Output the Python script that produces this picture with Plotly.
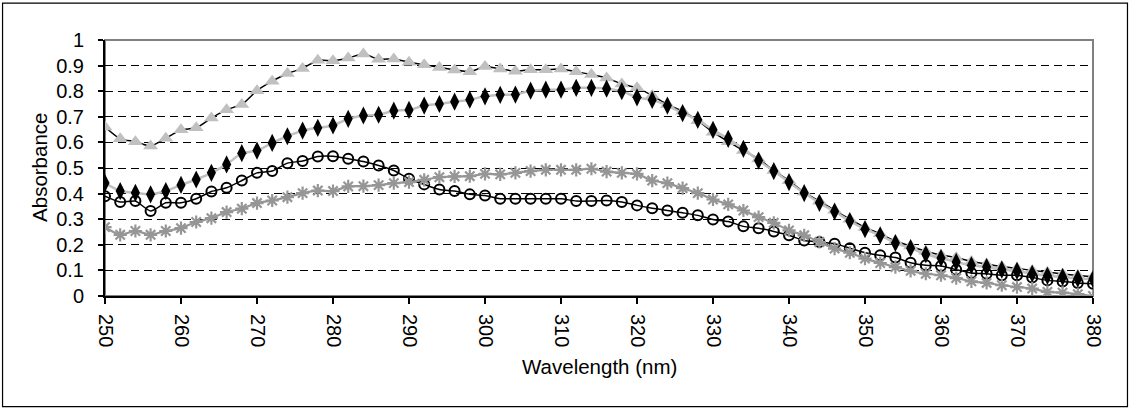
import plotly.graph_objects as go

# Wavelength grid (nm), sampled every 2 nm
wavelength = list(range(250, 382, 2))

# Absorbance spectra of the four samples
abs_triangle = [
    0.660, 0.614, 0.603, 0.586, 0.616, 0.649, 0.657, 0.695, 0.728, 0.748,
    0.802, 0.839, 0.869, 0.889, 0.921, 0.919, 0.930, 0.945, 0.925, 0.926,
    0.913, 0.903, 0.893, 0.883, 0.876, 0.896, 0.887, 0.878, 0.884, 0.884,
    0.887, 0.876, 0.865, 0.852, 0.828, 0.813, 0.783, 0.748, 0.722, 0.685,
    0.640, 0.603, 0.568, 0.535, 0.490, 0.450, 0.405, 0.370, 0.335, 0.300,
    0.268, 0.243, 0.215, 0.195, 0.175, 0.160, 0.150, 0.135, 0.125, 0.115,
    0.108, 0.100, 0.093, 0.086, 0.080, 0.075,
]
abs_diamond = [
    0.441, 0.410, 0.403, 0.397, 0.410, 0.434, 0.455, 0.481, 0.514, 0.558,
    0.568, 0.598, 0.624, 0.646, 0.657, 0.666, 0.692, 0.705, 0.708, 0.724,
    0.727, 0.744, 0.750, 0.759, 0.767, 0.780, 0.786, 0.787, 0.802, 0.806,
    0.806, 0.813, 0.813, 0.810, 0.800, 0.776, 0.766, 0.744, 0.714, 0.688,
    0.649, 0.614, 0.575, 0.529, 0.488, 0.445, 0.402, 0.364, 0.330, 0.293,
    0.261, 0.237, 0.207, 0.187, 0.163, 0.148, 0.133, 0.120, 0.113, 0.103,
    0.098, 0.087, 0.079, 0.074, 0.068, 0.066,
]
abs_circle = [
    0.390, 0.367, 0.371, 0.332, 0.364, 0.364, 0.380, 0.408, 0.423, 0.451,
    0.481, 0.488, 0.519, 0.527, 0.545, 0.546, 0.536, 0.525, 0.510, 0.490,
    0.458, 0.436, 0.416, 0.410, 0.397, 0.393, 0.380, 0.380, 0.380, 0.380,
    0.380, 0.371, 0.371, 0.373, 0.367, 0.354, 0.343, 0.334, 0.325, 0.315,
    0.299, 0.291, 0.272, 0.265, 0.252, 0.237, 0.217, 0.211, 0.204, 0.187,
    0.169, 0.159, 0.150, 0.130, 0.120, 0.117, 0.103, 0.090, 0.087, 0.081,
    0.081, 0.072, 0.061, 0.057, 0.051, 0.048,
]
abs_star = [
    0.269, 0.239, 0.254, 0.239, 0.254, 0.265, 0.289, 0.304, 0.328, 0.341,
    0.363, 0.373, 0.386, 0.402, 0.412, 0.410, 0.428, 0.429, 0.433, 0.441,
    0.445, 0.454, 0.464, 0.467, 0.468, 0.477, 0.475, 0.481, 0.488, 0.493,
    0.493, 0.493, 0.497, 0.486, 0.481, 0.477, 0.451, 0.441, 0.421, 0.402,
    0.377, 0.358, 0.334, 0.308, 0.286, 0.256, 0.237, 0.211, 0.185, 0.169,
    0.146, 0.129, 0.113, 0.098, 0.087, 0.081, 0.070, 0.057, 0.051, 0.042,
    0.035, 0.029, 0.016, 0.013, 0.007, 0.000,
]

y_ticks = [0, 0.1, 0.2, 0.3, 0.4, 0.5, 0.6, 0.7, 0.8, 0.9, 1]
x_ticks = list(range(250, 390, 10))

FONT = "Liberation Sans, Arial, sans-serif"
LIGHT = "#c0c0c0"
MID = "#969696"

fig = go.Figure()

fig.add_trace(go.Scatter(
    x=wavelength, y=abs_triangle, mode="lines+markers",
    line=dict(color="black", width=1.5, shape="spline", smoothing=0.6),
    marker=dict(symbol="triangle-up", size=13, color=LIGHT, line=dict(width=0)),
))
fig.add_trace(go.Scatter(
    x=wavelength, y=abs_diamond, mode="lines+markers",
    line=dict(color=LIGHT, width=2.5, shape="spline", smoothing=0.6),
    marker=dict(symbol="diamond-tall", size=13, color="black", line=dict(width=0)),
))
fig.add_trace(go.Scatter(
    x=wavelength, y=abs_circle, mode="lines+markers",
    line=dict(color="black", width=1.5, shape="spline", smoothing=0.6),
    marker=dict(symbol="circle-open", size=10, color="black", line=dict(width=2, color="black")),
))
fig.add_trace(go.Scatter(
    x=wavelength, y=abs_star, mode="lines+markers",
    line=dict(color=MID, width=2.2, shape="spline", smoothing=0.6),
    marker=dict(symbol="asterisk-open", size=11, color=MID, line=dict(width=2.2, color=MID)),
))

# Frame geometry in pixels
W, H = 1132, 409
L, R, T, B = 104.5, 1093, 39.5, 295.7
pw, ph = R - L, B - T


def px_x(x):
    return (x - L) / pw


def px_y(y):
    return (B - y) / ph


shapes = [
    # plot-area border (grey)
    dict(type="rect", xref="paper", yref="paper", x0=0, x1=1, y0=0, y1=1,
         line=dict(color="#808080", width=2), layer="below"),
    # chart border
    dict(type="rect", xref="paper", yref="paper",
         x0=px_x(2), x1=px_x(1127.5), y0=px_y(406.5), y1=px_y(2.5),
         line=dict(color="black", width=1.2), layer="below"),
]

fig.update_layout(
    width=W, height=H,
    margin=dict(l=L, r=W - R, t=T, b=H - B, pad=0),
    paper_bgcolor="white", plot_bgcolor="white",
    showlegend=False,
    font=dict(family=FONT, size=20, color="black"),
    shapes=shapes,
    annotations=[
        dict(text="Wavelength (nm)", xref="paper", yref="paper",
             x=0.5, y=px_y(366), xanchor="center", yanchor="middle",
             showarrow=False, font=dict(size=20.5)),
        dict(text="Absorbance", xref="paper", yref="paper",
             x=px_x(39), y=px_y(167), xanchor="center", yanchor="middle",
             textangle=-90, showarrow=False, font=dict(size=20.5)),
    ],
)

fig.update_xaxes(
    range=[250, 380], tickvals=x_ticks, ticktext=[str(v) for v in x_ticks],
    tickangle=90, ticks="outside", ticklen=6, tickcolor="black", tickwidth=1.5,
    ticklabelstandoff=6,
    showline=True, linecolor="black", linewidth=2,
    showgrid=False, zeroline=False, tickfont=dict(size=20),
)
fig.update_yaxes(
    range=[0, 1], tickvals=y_ticks, ticktext=[f"{v:g}" for v in y_ticks],
    ticks="outside", ticklen=5, tickcolor="black", tickwidth=1.5,
    ticklabelstandoff=10,
    showline=True, linecolor="black", linewidth=2,
    showgrid=True, gridcolor="black", gridwidth=1, griddash="8px,5px",
    zeroline=False, tickfont=dict(size=20),
)

fig.write_html("out.html")
